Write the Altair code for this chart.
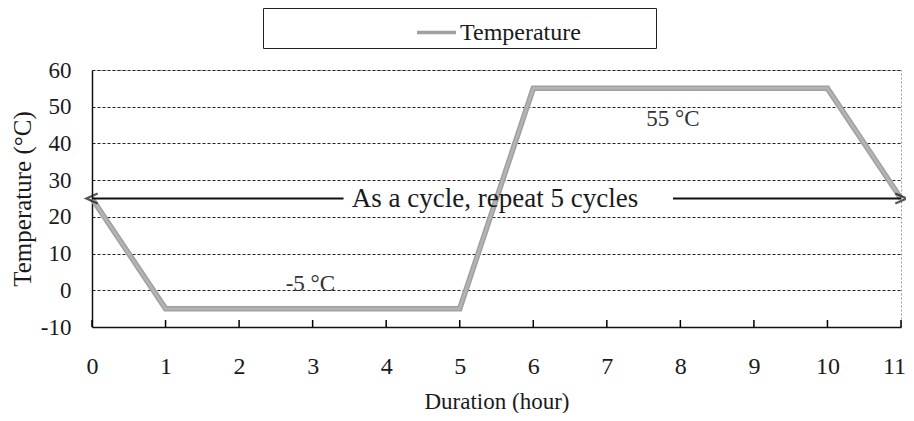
import altair as alt
import pandas as pd

# Data
hours = [0, 1, 5, 6, 10, 11]
temps = [25, -5, -5, 55, 55, 25]
series_name = "Temperature"
x_ticks = list(range(0, 12))
y_ticks = [-10, 0, 10, 20, 30, 40, 50, 60]

arrow_y = 25
arrow_segments_start = [0, 7.9]
arrow_segments_end = [3.42, 11]
arrow_label = "As a cycle, repeat 5 cycles"
arrow_label_x = 5.48

labels_text = ["-5 °C", "55 °C"]
labels_x = [2.97, 7.9]
labels_y = [1.6, 46.6]

FONT = "Liberation Serif"
TXT = "#1a1a1a"

df = pd.DataFrame({"hour": hours, "temp": temps, "series": [series_name] * len(hours)})
seg_df = pd.DataFrame({"x": arrow_segments_start, "x2": arrow_segments_end, "y": [arrow_y] * 2})
head_df = pd.DataFrame({"x": [0, 11], "y": [arrow_y] * 2, "side": ["L", "R"]})
lab_df = pd.DataFrame({"x": labels_x, "y": labels_y, "t": labels_text})
tick_df = pd.DataFrame({"tx": x_ticks})

xs = alt.Scale(domain=[0, 11], nice=False)
ys = alt.Scale(domain=[-10, 60], nice=False)

x_axis = alt.Axis(values=x_ticks, tickCount=len(x_ticks), title="Duration (hour)", grid=False, ticks=False,
                  labelExpr="'' + datum.value", labelOverlap=False,
                  labelOffset={"condition": {"test": "datum.value == 11", "value": -7}, "value": 0},
                  labelFont=FONT, labelFontSize=24, labelColor=TXT, labelPadding=27,
                  titleFont=FONT, titleFontSize=23, titleFontWeight="normal", titleColor=TXT,
                  titlePadding=12, domainColor="#111", domainWidth=1.5, labelFlush=False)
y_axis = alt.Axis(values=y_ticks, tickCount=len(y_ticks), title="Temperature (°C)", grid=True, ticks=False,
                  labelExpr="'' + datum.value", labelOverlap=False,
                  gridDash=[3, 2], gridColor="#222", gridWidth=1,
                  labelFont=FONT, labelFontSize=23, labelColor=TXT, labelPadding=21,
                  titleFont=FONT, titleFontSize=25, titleFontWeight="normal", titleColor=TXT,
                  titlePadding=5, domainColor="#111", domainWidth=1.5)

PAD = "\u2800" * 4

outer = alt.Chart(df).mark_line(strokeWidth=5.5, color="#858585").encode(
    x=alt.X("hour:Q", scale=xs, axis=x_axis),
    y=alt.Y("temp:Q", scale=ys, axis=y_axis),
    color=alt.Color("series:N", scale=alt.Scale(range=["#a0a0a0"]),
                    legend=alt.Legend(
                        title=None, orient="none", legendX=171, legendY=-62,
                        strokeColor="#222", padding=3, symbolType="stroke",
                        symbolSize=1521, symbolStrokeWidth=3.5, symbolOffset=149,
                        labelFont=FONT, labelFontSize=24, labelColor=TXT,
                        labelOffset=2, labelLimit=500,
                        labelExpr="datum.label + '" + PAD + "'")),
)
inner = alt.Chart(df).mark_line(strokeWidth=2.5, color="#b4b4b4").encode(
    x=alt.X("hour:Q", scale=xs), y=alt.Y("temp:Q", scale=ys))

ticks = alt.Chart(tick_df).transform_calculate(ybase="-10", ytop="-8.1").mark_rule(
    color="#000", strokeWidth=1.5).encode(
    x=alt.X("tx:Q", scale=xs), y=alt.Y("ybase:Q", scale=ys), y2="ytop:Q")

segs = alt.Chart(seg_df).mark_rule(color="#111", strokeWidth=2).encode(
    x=alt.X("x:Q", scale=xs), x2="x2:Q", y=alt.Y("y:Q", scale=ys))

heads = alt.Chart(head_df).mark_point(filled=False, strokeWidth=2.2, color="#111", size=160).encode(
    x=alt.X("x:Q", scale=xs), y=alt.Y("y:Q", scale=ys),
    shape=alt.Shape("side:N", scale=alt.Scale(domain=["L", "R"],
                                              range=["M0.9,-0.8L-0.9,0L0.9,0.8", "M-0.9,-0.8L0.9,0L-0.9,0.8"]),
                    legend=None))

arrow_text = alt.Chart(pd.DataFrame({"x": [arrow_label_x], "y": [arrow_y], "t": [arrow_label]})).mark_text(
    font=FONT, fontSize=27, color=TXT, baseline="middle").encode(
    x=alt.X("x:Q", scale=xs), y=alt.Y("y:Q", scale=ys), text="t:N")

lab_text = alt.Chart(lab_df).mark_text(font=FONT, fontSize=23, color="#333", baseline="middle").encode(
    x=alt.X("x:Q", scale=xs), y=alt.Y("y:Q", scale=ys), text="t:N")

chart = alt.layer(outer, inner, ticks, segs, heads, arrow_text, lab_text).properties(
    width=809, height=257,
    autosize=alt.AutoSizeParams(type="none"),
    padding={"left": 84, "top": 62, "right": 5, "bottom": 86},
    background="white",
).configure_view(stroke="#999", strokeDash=[2, 2], strokeWidth=1)

chart.save("out.html", embed_options={"renderer": "svg", "actions": False})
